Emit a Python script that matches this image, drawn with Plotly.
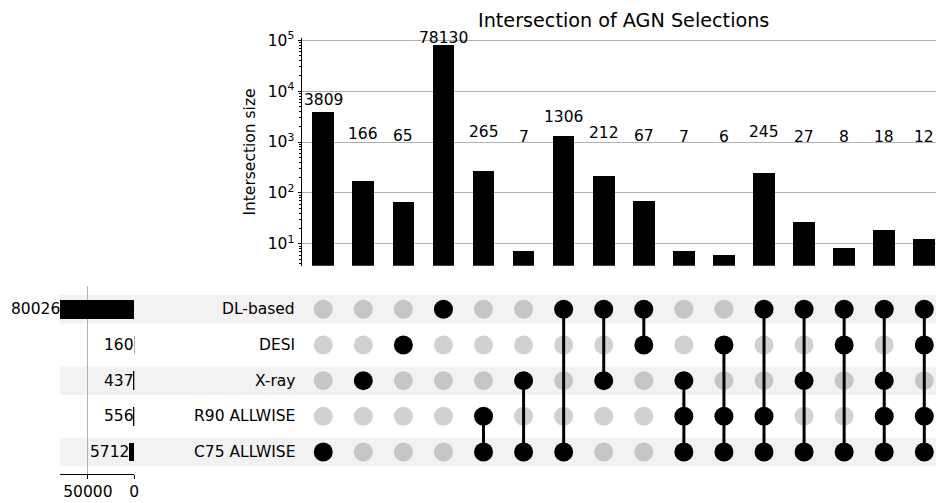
import numpy as np
import plotly.graph_objects as go

# ---- data -------------------------------------------------------------
sets = ["DL-based", "DESI", "X-ray", "R90 ALLWISE", "C75 ALLWISE"]
set_totals = [80026, 160, 437, 556, 5712]

intersection_sizes = [3809, 166, 65, 78130, 265, 7, 1306, 212, 67, 7, 6, 245, 27, 8, 18, 12]
intersection_members = [
    ["C75 ALLWISE"],
    ["X-ray"],
    ["DESI"],
    ["DL-based"],
    ["R90 ALLWISE", "C75 ALLWISE"],
    ["X-ray", "C75 ALLWISE"],
    ["DL-based", "C75 ALLWISE"],
    ["DL-based", "X-ray"],
    ["DL-based", "DESI"],
    ["X-ray", "R90 ALLWISE", "C75 ALLWISE"],
    ["DESI", "R90 ALLWISE", "C75 ALLWISE"],
    ["DL-based", "R90 ALLWISE", "C75 ALLWISE"],
    ["DL-based", "X-ray", "C75 ALLWISE"],
    ["DL-based", "DESI", "C75 ALLWISE"],
    ["DL-based", "X-ray", "R90 ALLWISE", "C75 ALLWISE"],
    ["DL-based", "DESI", "R90 ALLWISE", "C75 ALLWISE"],
]
title_text = "Intersection of AGN Selections"
size_axis_title = "Intersection size"
size_tick_exponents = [1, 2, 3, 4, 5]
totals_ticks = [50000, 0]

# ---- geometry / style -------------------------------------------------
W, H = 936, 503
FONT = "DejaVu Sans"
FS = 15.5
TITLE_FS = 19.2
GRID = "#b0b0b0"
DOT = 19


def px(x):
    return x / W


def py(y):
    return 1 - y / H


n_sets = len(sets)
row_of = {s: n_sets - 1 - i for i, s in enumerate(sets)}  # first set on top
cols = list(range(len(intersection_sizes)))

col_step = 40.07
x_left = -0.53
x_range = [x_left, x_left + (W - 302) / col_step]
tot_max = max(set_totals)

fig = go.Figure()

# intersection-size bars
fig.add_trace(go.Bar(
    x=cols, y=intersection_sizes, width=0.54,
    marker=dict(color="black", line=dict(width=0)),
    xaxis="x", yaxis="y", hoverinfo="x+y",
))

# membership matrix
gx, gy, bx, by, lx, ly = [], [], [], [], [], []
for c, members in enumerate(intersection_members):
    rows = [row_of[s] for s in members]
    for s in sets:
        if s in members:
            bx.append(c); by.append(row_of[s])
        else:
            gx.append(c); gy.append(row_of[s])
    if len(rows) > 1:
        lx += [c, c, None]
        ly += [min(rows), max(rows), None]

fig.add_trace(go.Scatter(
    x=gx, y=gy, mode="markers",
    marker=dict(size=DOT, color="rgba(0,0,0,0.18)", line=dict(width=0)),
    xaxis="x2", yaxis="y2",
))
fig.add_trace(go.Scatter(
    x=lx, y=ly, mode="lines", line=dict(color="black", width=3),
    xaxis="x2", yaxis="y2",
))
fig.add_trace(go.Scatter(
    x=bx, y=by, mode="markers",
    marker=dict(size=DOT, color="black", line=dict(width=0)),
    xaxis="x2", yaxis="y2",
))

# set-size bars
fig.add_trace(go.Bar(
    x=set_totals, y=[row_of[s] for s in sets], orientation="h", width=0.53,
    marker=dict(color="black", line=dict(width=0)),
    xaxis="x3", yaxis="y3",
))

# alternating row shading
shapes = []
for s in sets:
    r = row_of[s]
    if r % 2 == 0:
        shapes.append(dict(
            type="rect", xref="paper", yref="y2",
            x0=px(60), x1=1, y0=r - 0.4, y1=r + 0.4,
            fillcolor="rgba(0,0,0,0.05)", line=dict(width=0), layer="below",
        ))

annotations = []
# value labels over the intersection bars
label_margin = 850
for c, v in enumerate(intersection_sizes):
    annotations.append(dict(
        x=c, y=np.log10(v + label_margin), xref="x", yref="y",
        text=str(v), showarrow=False, yanchor="bottom", xanchor="center",
        yshift=-3,
        font=dict(family=FONT, size=FS, color="black"),
    ))
# value labels beside the set-size bars (placed in domain units of the
# reversed totals axis so the longest one is not clipped)
tot_margin = 0.01 * tot_max
for s, v in zip(sets, set_totals):
    annotations.append(dict(
        x=(tot_max - (v + tot_margin)) / tot_max, y=row_of[s],
        xref="x3 domain", yref="y3",
        text=str(v), showarrow=False, xanchor="right", yanchor="middle",
        xshift=3,
        font=dict(family=FONT, size=FS, color="black"),
    ))
# set names
for s in sets:
    annotations.append(dict(
        x=px(297), y=row_of[s], xref="paper", yref="y2",
        text=s, showarrow=False, xanchor="right", yanchor="middle",
        font=dict(family=FONT, size=FS, color="black"),
    ))
# title
annotations.append(dict(
    x=px(623.5), y=py(20.5), xref="paper", yref="paper",
    text=title_text, showarrow=False, xanchor="center", yanchor="middle",
    font=dict(family=FONT, size=TITLE_FS, color="black"),
))

hidden = dict(showticklabels=False, showgrid=False, zeroline=False,
              showline=False, ticks="")

fig.update_layout(
    template="none",
    width=W, height=H,
    margin=dict(l=0, r=0, t=0, b=0),
    paper_bgcolor="white", plot_bgcolor="rgba(0,0,0,0)",
    showlegend=False, bargap=0,
    font=dict(family=FONT, size=FS, color="black"),
    shapes=shapes, annotations=annotations,
    xaxis=dict(domain=[px(302), 1], range=x_range, anchor="y", **hidden),
    yaxis=dict(
        type="log", domain=[py(265.7), py(38.3)], range=[0.568, 5.04],
        anchor="x", showline=True, linecolor="black", linewidth=1,
        ticks="outside", ticklen=3.5, tickwidth=1, tickcolor="black",
        tickvals=[10 ** e for e in size_tick_exponents],
        ticktext=[f"10<sup>{e}</sup>" for e in size_tick_exponents],
        showgrid=True, gridcolor=GRID, gridwidth=1, zeroline=False,
        tickfont=dict(family=FONT, size=FS, color="black"),
        minor=dict(ticks="outside", ticklen=2, tickwidth=0.8,
                   tickcolor="black", showgrid=False, dtick="D1"),
        title=dict(text=size_axis_title, standoff=8,
                   font=dict(family=FONT, size=FS, color="black")),
    ),
    xaxis2=dict(domain=[px(302), 1], range=x_range, anchor="y2", **hidden),
    yaxis2=dict(domain=[py(469.8), py(291.5)], range=[-0.5, n_sets - 0.5],
                anchor="x2", **hidden),
    xaxis3=dict(
        domain=[px(60), px(134.3)], range=[tot_max, 0], anchor="y3",
        showline=True, linecolor="black", linewidth=1,
        ticks="outside", ticklen=3.5, tickwidth=1, tickcolor="black",
        tickvals=totals_ticks, ticktext=[str(t) for t in totals_ticks],
        showgrid=True, gridcolor=GRID, gridwidth=1, zeroline=False,
        tickfont=dict(family=FONT, size=FS, color="black"),
    ),
    yaxis3=dict(domain=[py(474.3), py(286)], range=[-0.626, n_sets - 1 + 0.654],
                anchor="x3", **hidden),
)

fig.write_html("out.html")
